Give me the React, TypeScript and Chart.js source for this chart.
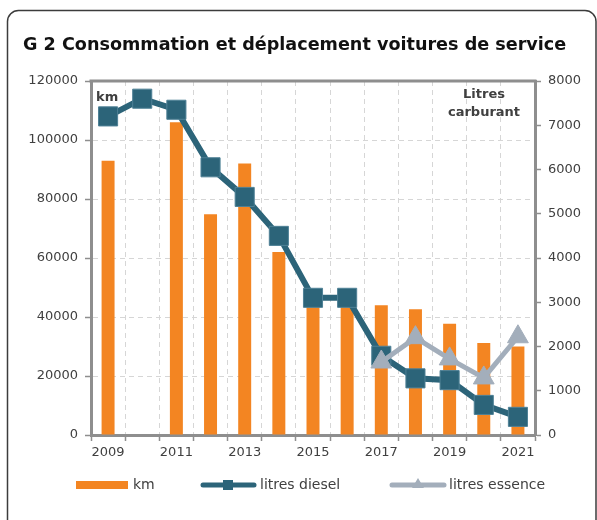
import React, { useEffect, useRef } from "react";
import { Chart, registerables } from "chart.js";

Chart.register(...registerables);

const years = ["2009", "2010", "2011", "2012", "2013", "2014", "2015", "2016", "2017", "2018", "2019", "2020", "2021"];
const kmValues: (number | null)[] = [93000, null, 106000, 74800, 92000, 62000, 46500, 46500, 44000, 42600, 37700, 31200, 30000];
const dieselValues: (number | null)[] = [7200, 7600, 7350, 6050, 5380, 4500, 3100, 3100, 1790, 1280, 1240, 680, 410];
const essenceValues: (number | null)[] = [null, null, null, null, null, null, null, null, 1650, 2200, 1720, 1290, 2220];

const titleText = "G 2 Consommation et déplacement voitures de service";
const leftUnit = "km";
const rightUnit = ["Litres", "carburant"];
const legendLabels = ["km", "litres diesel", "litres essence"];

const ORANGE = "#F38522";
const TEAL = "#2C6479";
const GREYBLUE = "#A3AEBB";
const AXIS = "#8E8E8E";
const GRID = "#D6D6D6";
const TEXT = "#404040";
const FONT = "DejaVu Sans";

const decorPlugin = {
  id: "decor",
  beforeDraw(chart: any) {
    const ctx = chart.ctx;
    ctx.save();
    ctx.fillStyle = "#ffffff";
    ctx.fillRect(0, 0, chart.width, chart.height);
    ctx.strokeStyle = "#3c3c3c";
    ctx.lineWidth = 1.5;
    ctx.beginPath();
    (ctx as any).roundRect(7.5, 10.5, 588.5, 530, 11);
    ctx.stroke();
    ctx.fillStyle = "#111111";
    ctx.font = `bold 17.6px "${FONT}"`;
    ctx.textBaseline = "alphabetic";
    ctx.textAlign = "left";
    ctx.fillText(titleText, 23, 50);
    ctx.restore();
  },
  afterDatasetsDraw(chart: any) {
    const ctx = chart.ctx;
    const a = chart.chartArea;
    ctx.save();
    ctx.strokeStyle = AXIS;
    ctx.lineWidth = 3;
    ctx.beginPath();
    ctx.moveTo(a.left - 1.5, a.top);
    ctx.lineTo(a.right + 1.5, a.top);
    ctx.stroke();
    ctx.fillStyle = TEXT;
    ctx.font = `bold 13px "${FONT}"`;
    ctx.textBaseline = "middle";
    ctx.textAlign = "left";
    ctx.fillText(leftUnit, 96, 98);
    ctx.textAlign = "center";
    ctx.fillText(rightUnit[0], 484, 95);
    ctx.fillText(rightUnit[1], 484, 113);
    ctx.restore();
  },
  afterDraw(chart: any) {
    const ctx = chart.ctx;
    ctx.save();
    const y = 485;
    ctx.fillStyle = ORANGE;
    ctx.fillRect(76, 481, 52, 8);
    ctx.strokeStyle = TEAL;
    ctx.lineWidth = 5;
    ctx.lineCap = "round";
    ctx.beginPath();
    ctx.moveTo(203, y);
    ctx.lineTo(254, y);
    ctx.stroke();
    ctx.fillStyle = TEAL;
    ctx.fillRect(223, y - 5, 10, 10);
    ctx.strokeStyle = GREYBLUE;
    ctx.beginPath();
    ctx.moveTo(392, y);
    ctx.lineTo(444, y);
    ctx.stroke();
    ctx.fillStyle = GREYBLUE;
    ctx.beginPath();
    ctx.moveTo(418, y - 7);
    ctx.lineTo(424, y + 3);
    ctx.lineTo(412, y + 3);
    ctx.closePath();
    ctx.fill();
    ctx.fillStyle = TEXT;
    ctx.font = `14px "${FONT}"`;
    ctx.textBaseline = "middle";
    ctx.textAlign = "left";
    ctx.fillText(legendLabels[0], 133, y);
    ctx.fillText(legendLabels[1], 260, y);
    ctx.fillText(legendLabels[2], 449, y);
    ctx.restore();
  },
};

export default function App() {
  const canvasRef = useRef<HTMLCanvasElement | null>(null);

  useEffect(() => {
    if (!canvasRef.current) return;
    const chart = new Chart(canvasRef.current, {
      type: "bar",
      data: {
        labels: years,
        datasets: [
          {
            type: "bar",
            label: legendLabels[0],
            data: kmValues,
            backgroundColor: ORANGE,
            yAxisID: "y",
            barPercentage: 0.38,
            categoryPercentage: 1,
            order: 3,
          } as any,
          {
            type: "line",
            label: legendLabels[1],
            data: dieselValues,
            borderColor: TEAL,
            backgroundColor: TEAL,
            borderWidth: 6,
            pointStyle: "rect",
            pointRadius: 13.5,
            pointBackgroundColor: TEAL,
            pointBorderColor: "#4F8196",
            pointBorderWidth: 1,
            yAxisID: "y1",
            order: 2,
          } as any,
          {
            type: "line",
            label: legendLabels[2],
            data: essenceValues,
            borderColor: GREYBLUE,
            backgroundColor: GREYBLUE,
            borderWidth: 5,
            pointStyle: "triangle",
            pointRadius: 12,
            pointBackgroundColor: GREYBLUE,
            pointBorderColor: GREYBLUE,
            pointBorderWidth: 1,
            yAxisID: "y1",
            order: 1,
          } as any,
        ],
      },
      options: {
        responsive: false,
        animation: false,
        devicePixelRatio: 1,
        layout: { padding: { top: 81, bottom: 55, left: 0, right: 0 } },
        plugins: {
          legend: { display: false },
          tooltip: { enabled: false },
          title: { display: false },
        },
        scales: {
          x: {
            type: "category",
            offset: true,
            grid: {
              display: true,
              offset: true,
              color: GRID,
              lineWidth: 1,
              tickColor: AXIS,
              tickLength: 6,
              tickWidth: 1.5,
              tickBorderDash: [],
            } as any,
            border: { display: true, color: AXIS, width: 3, dash: [5, 4] } as any,
            ticks: {
              autoSkip: false,
              maxRotation: 0,
              minRotation: 0,
              padding: 4,
              color: TEXT,
              font: { family: FONT, size: 13 },
              callback: (_v: any, i: number) => (i % 2 === 0 ? years[i] : ""),
            },
            afterFit: (s: any) => {
              s.height = 30;
            },
          },
          y: {
            position: "left",
            min: 0,
            max: 120000,
            grid: {
              color: GRID,
              lineWidth: 1,
              tickColor: AXIS,
              tickLength: 6,
              tickWidth: 1.5,
              tickBorderDash: [],
            } as any,
            border: { display: true, color: AXIS, width: 3, dash: [5, 4] } as any,
            ticks: {
              stepSize: 20000,
              padding: 7,
              color: TEXT,
              font: { family: FONT, size: 13 },
              callback: (v: any) => String(v),
            },
            afterFit: (s: any) => {
              s.width = 91;
            },
          },
          y1: {
            position: "right",
            min: 0,
            max: 8000,
            grid: {
              drawOnChartArea: false,
              tickColor: AXIS,
              tickLength: 6,
              tickWidth: 1.5,
            } as any,
            border: { display: true, color: AXIS, width: 3 },
            ticks: {
              stepSize: 1000,
              padding: 7,
              color: TEXT,
              font: { family: FONT, size: 13 },
              callback: (v: any) => String(v),
            },
            afterFit: (s: any) => {
              s.width = 62;
            },
          },
        },
      },
      plugins: [decorPlugin],
    });
    return () => chart.destroy();
  }, []);

  return (
    <div style={{ position: "absolute", left: 0, top: 0, width: 597, height: 520 }}>
      <canvas ref={canvasRef} width={597} height={520} style={{ width: 597, height: 520, display: "block" }} />
    </div>
  );
}
